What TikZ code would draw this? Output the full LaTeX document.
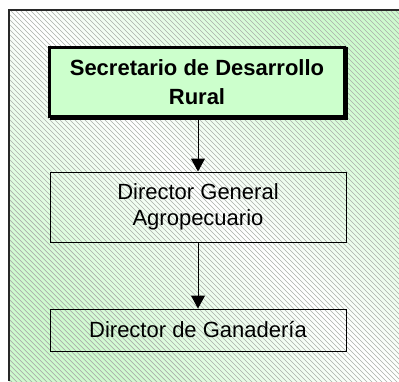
\documentclass[tikz,border=0pt]{standalone}
\usepackage{fontspec}
\setmainfont{Liberation Sans}
\usetikzlibrary{arrows.meta}
\definecolor{bggreen}{RGB}{206,250,206}
\definecolor{boxgreen}{RGB}{204,255,204}
\definecolor{hatchgray}{RGB}{170,175,170}
\definecolor{framegray}{RGB}{40,40,40}
\tikzset{
  hatch/.style={draw=hatchgray, line width=0.7pt},
  topbox/.style={draw=black, fill=boxgreen, line width=3pt, minimum width=295pt, minimum height=69.5pt,
    align=center, font=\fontsize{22}{29}\selectfont\bfseries, inner sep=0pt},
  shadowbox/.style={fill=black, minimum width=298pt, minimum height=72.5pt, inner sep=0pt},
  plainbox/.style={draw=black, line width=1pt, minimum width=296pt, align=center,
    font=\fontsize{22}{26}\selectfont, inner sep=0pt},
  link/.style={draw=black, line width=1pt, -{Triangle[width=14pt,length=13pt]}}
}
\begin{document}
\begin{tikzpicture}[x=1pt,y=-1pt]
\useasboundingbox (0,0) rectangle (399,381);
\fill[white] (0,0) rectangle (399,381);
% background with diagonal gradient
\shade[top color=bggreen, bottom color=bggreen, middle color=white, shading angle=-45]
  (9,10) rectangle (399,381);
\begin{scope}
  \clip (9,10) rectangle (399,381);
  \foreach \i in {-400,-395,...,400} {
    \draw[hatch] (\i,10) -- ++(380,380);
  }
\end{scope}
\draw[framegray, line width=1.5pt] (9,381) -- (9,10) -- (399,10);
% boxes
\node[shadowbox] (sh) at (198.5,83.5) {};
\node[topbox] (sec) at (197,81.75) {Secretario de Desarrollo\\Rural};
\node[plainbox, minimum height=70pt] (dga) at (198,207) {Director General\\Agropecuario};
\node[plainbox, minimum height=42pt] (dg) at (198,330) {Director de Ganadería};
% connectors
\draw[link] (sec.south -| dga.north) -- (dga.north);
\draw[link] (dga.south) -- (dg.north);
\end{tikzpicture}
\end{document}
